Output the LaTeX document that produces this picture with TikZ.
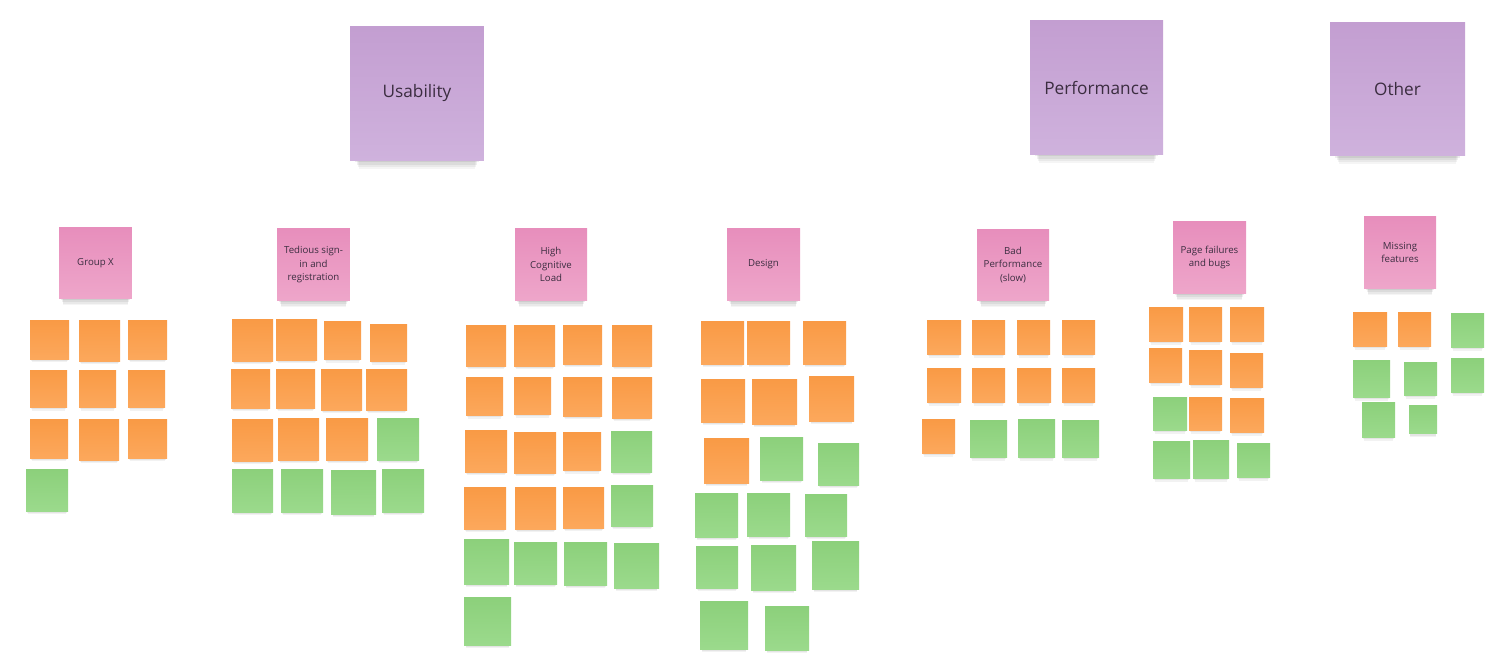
\documentclass[tikz,border=0pt]{standalone}
\usepackage{fontspec}
\setmainfont{Open Sans}
\usetikzlibrary{shadows}
\definecolor{lilaA}{HTML}{C39ED1}
\definecolor{lilaB}{HTML}{CFB2DD}
\definecolor{rosaA}{HTML}{E78EBC}
\definecolor{rosaB}{HTML}{EEA6CA}
\definecolor{naranjaA}{HTML}{F99A45}
\definecolor{naranjaB}{HTML}{FCA85C}
\definecolor{verdeA}{HTML}{8CD07B}
\definecolor{verdeB}{HTML}{9BDA8C}
\definecolor{tinta}{HTML}{3B2D40}
\begin{document}
\begin{tikzpicture}[
        x=0.02cm, y=-0.02cm,
        nota/.style={inner sep=0pt, outer sep=0pt},
        sombra/.style={general shadow={fill=black, opacity=.07, shadow yshift=-0.036cm, shadow scale=.96},
        general shadow={fill=black, opacity=.06, shadow yshift=-0.078cm, shadow scale=.93},
        general shadow={fill=black, opacity=.05, shadow yshift=-0.12cm, shadow scale=.9}},
        sombragrupo/.style={general shadow={fill=black, opacity=.07, shadow yshift=-0.074cm, shadow scale=.94},
        general shadow={fill=black, opacity=.06, shadow yshift=-0.128cm, shadow scale=.92},
        general shadow={fill=black, opacity=.05, shadow yshift=-0.182cm, shadow scale=.9},
        general shadow={fill=black, opacity=.04, shadow yshift=-0.236cm, shadow scale=.88}},
        sombragrande/.style={general shadow={fill=black, opacity=.07, shadow yshift=-0.15cm, shadow scale=.92},
        general shadow={fill=black, opacity=.06, shadow yshift=-0.235cm, shadow scale=.9},
        general shadow={fill=black, opacity=.05, shadow yshift=-0.32cm, shadow scale=.88},
        general shadow={fill=black, opacity=.04, shadow yshift=-0.41cm, shadow scale=.86}},
        tema/.style={nota, sombragrande, top color=lilaA, bottom color=lilaB, text=tinta,
        font=\fontsize{9.8}{12}\selectfont},
        grupo/.style={nota, sombragrupo, top color=rosaA, bottom color=rosaB, text=tinta,
        align=center, font=\fontsize{5.5}{7.6}\selectfont},
        ora/.style={top color=naranjaA, bottom color=naranjaB},
        gre/.style={top color=verdeA, bottom color=verdeB}
    ]
        \useasboundingbox (0,0) rectangle (1501,666);
        % temas
        \node[tema, minimum width=2.68cm, minimum height=2.70cm] (usab) at (417,93.5) {Usability};
        \node[tema, minimum width=2.66cm, minimum height=2.70cm] (perf) at (1096.5,87.5) {Performance};
        \node[tema, minimum width=2.70cm, minimum height=2.68cm] (otro) at (1397.5,89) {Other};
        % grupos
        \node[grupo, minimum width=1.46cm, minimum height=1.44cm] (grupox) at (95.5,263) {Group X};
        \node[grupo, minimum width=1.46cm, minimum height=1.46cm] (registro) at (313.5,264.5)
        {Tedious sign-\\in and\\registration};
        \node[grupo, minimum width=1.44cm, minimum height=1.46cm] (carga) at (551,264.5)
        {High\\Cognitive\\Load};
        \node[grupo, minimum width=1.46cm, minimum height=1.46cm] (diseno) at (763.5,264.5) {Design};
        \node[grupo, minimum width=1.44cm, minimum height=1.44cm] (lento) at (1013,265)
        {Bad\\Performance\\(slow)};
        \node[grupo, minimum width=1.46cm, minimum height=1.46cm] (fallos) at (1209.5,257.5)
        {Page failures\\and bugs};
        \node[grupo, minimum width=1.44cm, minimum height=1.46cm] (faltan) at (1400,252.5)
        {Missing\\features};
        % notas: x1/y1/x2/y2/color
        \foreach \a/\b/\c/\d/\t [count=\k] in {30/320/69/359/ora, 79/320/120/361/ora, 128/320/167/359/ora,
            30/370/67/407/ora, 79/370/116/407/ora, 128/370/165/407/ora,
            30/419/68/458/ora, 79/419/119/460/ora, 128/419/167/458/ora,
            26/469/68/511/gre}
            \node[nota, sombra, \t, minimum width={(\c-\a)*0.02cm}, minimum height={(\d-\b)*0.02cm}]
            (gx\k) at ({(\a+\c)/2},{(\b+\d)/2}) {};
        \foreach \a/\b/\c/\d/\t [count=\k] in {232/319/273/361/ora, 276/319/317/360/ora, 324/321/361/359/ora, 370/324/407/361/ora,
            231/369/270/408/ora, 276/369/315/408/ora, 321/369/362/410/ora, 366/369/407/410/ora,
            232/419/273/461/ora, 278/418/319/460/ora, 326/418/368/460/ora, 377/418/419/460/gre,
            232/469/273/512/gre, 281/469/323/512/gre, 331/470/376/514/gre, 382/469/424/512/gre}
            \node[nota, sombra, \t, minimum width={(\c-\a)*0.02cm}, minimum height={(\d-\b)*0.02cm}]
            (ts\k) at ({(\a+\c)/2},{(\b+\d)/2}) {};
        \foreach \a/\b/\c/\d/\t [count=\k] in {466/325/506/366/ora, 514/325/555/366/ora, 563/325/602/364/ora, 612/325/652/366/ora,
            466/377/503/415/ora, 514/377/551/414/ora, 563/377/602/416/ora, 612/377/652/418/ora,
            465/430/507/472/ora, 514/432/556/473/ora, 563/432/601/470/ora, 611/431/652/472/gre,
            464/487/506/529/ora, 515/487/556/529/ora, 563/487/604/528/ora, 611/485/653/526/gre,
            464/539/509/584/gre, 514/542/557/584/gre, 564/542/607/585/gre, 614/543/659/588/gre,
            464/597/511/645/gre}
            \node[nota, sombra, \t, minimum width={(\c-\a)*0.02cm}, minimum height={(\d-\b)*0.02cm}]
            (hc\k) at ({(\a+\c)/2},{(\b+\d)/2}) {};
        \foreach \a/\b/\c/\d/\t [count=\k] in {701/321/744/364/ora, 747/321/790/364/ora, 803/321/846/364/ora,
            701/379/745/422/ora, 752/379/797/424/ora, 809/376/854/421/ora,
            704/438/749/483/ora, 760/437/803/480/gre, 818/443/859/485/gre,
            695/493/738/537/gre, 747/493/790/536/gre, 805/494/847/536/gre,
            696/546/738/588/gre, 751/545/796/590/gre, 812/541/859/589/gre,
            700/601/748/649/gre, 765/606/809/650/gre}
            \node[nota, sombra, \t, minimum width={(\c-\a)*0.02cm}, minimum height={(\d-\b)*0.02cm}]
            (de\k) at ({(\a+\c)/2},{(\b+\d)/2}) {};
        \foreach \a/\b/\c/\d/\t [count=\k] in {927/320/961/354/ora, 972/320/1005/354/ora, 1017/320/1050/354/ora, 1062/320/1095/354/ora,
            927/368/961/402/ora, 972/368/1005/402/ora, 1017/368/1051/402/ora, 1062/368/1095/402/ora,
            922/419/955/453/ora, 970/420/1007/457/gre, 1018/419/1055/457/gre, 1062/420/1099/457/gre}
            \node[nota, sombra, \t, minimum width={(\c-\a)*0.02cm}, minimum height={(\d-\b)*0.02cm}]
            (bp\k) at ({(\a+\c)/2},{(\b+\d)/2}) {};
        \foreach \a/\b/\c/\d/\t [count=\k] in {1149/307/1183/341/ora, 1189/307/1222/341/ora, 1230/307/1264/341/ora,
            1149/348/1182/382/ora, 1189/350/1222/384/ora, 1230/353/1263/387/ora,
            1153/397/1187/430/gre, 1189/397/1222/430/ora, 1230/398/1264/432/ora,
            1153/441/1190/478/gre, 1193/440/1229/478/gre, 1237/443/1270/477/gre}
            \node[nota, sombra, \t, minimum width={(\c-\a)*0.02cm}, minimum height={(\d-\b)*0.02cm}]
            (pf\k) at ({(\a+\c)/2},{(\b+\d)/2}) {};
        \foreach \a/\b/\c/\d/\t [count=\k] in {1353/312/1387/346/ora, 1398/312/1431/346/ora, 1451/313/1484/347/gre,
            1353/360/1390/397/gre, 1404/362/1437/395/gre, 1451/358/1484/392/gre,
            1362/402/1395/437/gre, 1409/405/1437/433/gre}
            \node[nota, sombra, \t, minimum width={(\c-\a)*0.02cm}, minimum height={(\d-\b)*0.02cm}]
            (mf\k) at ({(\a+\c)/2},{(\b+\d)/2}) {};
    \end{tikzpicture}
\end{document}
